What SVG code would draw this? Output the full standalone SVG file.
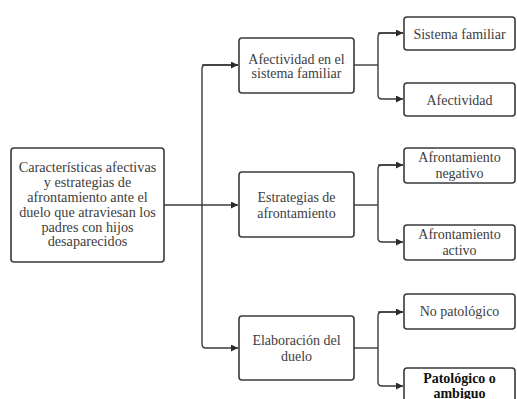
<svg xmlns="http://www.w3.org/2000/svg" width="517" height="399" viewBox="0 0 517 399">
<defs>
<marker id="arr" viewBox="0 0 10 10" refX="10" refY="5" markerWidth="8" markerHeight="7" markerUnits="userSpaceOnUse" orient="auto">
<path d="M0,0 L10,5 L0,10 z" fill="#2b2b2b"/>
</marker>
<style>
.box{fill:#ffffff;stroke:#3a3a3a;stroke-width:1.6}
.t{font-size:14px;fill:#3d3d3d;text-anchor:middle}
.m{font-size:14.2px}
.b{font-weight:bold;fill:#111111}
.c{fill:none;stroke:#3a3a3a;stroke-width:1.4}
</style>
</defs>
<rect width="517" height="399" fill="#ffffff"/>
<g id="connectors">
<path class="c" d="M164,205 H202"/>
<path class="c" d="M238,65 H206 Q202,65 202,69 V344 Q202,348 206,348 H238" marker-end="url(#arr)"/>
<path class="c" d="M202,65 H238" marker-end="url(#arr)"/>
<path class="c" d="M202,205 H238" marker-end="url(#arr)"/>
<path class="c" d="M354,65 H378"/>
<path class="c" d="M403,33 H382 Q378,33 378,37 V95 Q378,99 382,99 H403" marker-end="url(#arr)"/>
<path class="c" d="M378,33 H403" marker-end="url(#arr)"/>
<path class="c" d="M354,205 H378"/>
<path class="c" d="M403,165 H382 Q378,165 378,169 V238 Q378,242 382,242 H403" marker-end="url(#arr)"/>
<path class="c" d="M378,165 H403" marker-end="url(#arr)"/>
<path class="c" d="M354,348 H378"/>
<path class="c" d="M403,312 H382 Q378,312 378,316 V382 Q378,386 382,386 H403" marker-end="url(#arr)"/>
<path class="c" d="M378,312 H403" marker-end="url(#arr)"/>
</g>
<g font-family="'Liberation Serif', 'DejaVu Serif', serif">
<g id="main">
<rect class="box" x="11" y="148" width="153" height="114" rx="3"/>
<text class="t m" x="87.5" y="171.5">Características afectivas</text>
<text class="t m" x="87.5" y="186.5">y estrategias de</text>
<text class="t m" x="87.5" y="201.5">afrontamiento ante el</text>
<text class="t m" x="87.5" y="216.5">duelo que atraviesan los</text>
<text class="t m" x="87.5" y="231.5">padres con hijos</text>
<text class="t m" x="87.5" y="246">desaparecidos</text>
</g>
<g id="afectividad-sistema">
<rect class="box" x="239" y="38" width="115" height="55" rx="3"/>
<text class="t" x="296.5" y="63.5">Afectividad en el</text>
<text class="t" x="296.5" y="78">sistema familiar</text>
</g>
<g id="estrategias">
<rect class="box" x="239" y="172" width="115" height="65" rx="3"/>
<text class="t" x="296.5" y="202">Estrategias de</text>
<text class="t" x="296.5" y="217.5">afrontamiento</text>
</g>
<g id="elaboracion">
<rect class="box" x="239" y="316" width="115" height="64" rx="3"/>
<text class="t" x="296.5" y="345">Elaboración del</text>
<text class="t" x="296.5" y="361">duelo</text>
</g>
<g id="sistema-familiar">
<rect class="box" x="404" y="17" width="111" height="33" rx="3"/>
<text class="t" x="459.5" y="38.5">Sistema familiar</text>
</g>
<g id="afectividad">
<rect class="box" x="404" y="83" width="111" height="33" rx="3"/>
<text class="t" x="459.5" y="104.5">Afectividad</text>
</g>
<g id="afrontamiento-negativo">
<rect class="box" x="404" y="148" width="111" height="35" rx="3"/>
<text class="t" x="459.5" y="162">Afrontamiento</text>
<text class="t" x="459.5" y="177.5">negativo</text>
</g>
<g id="afrontamiento-activo">
<rect class="box" x="404" y="225" width="111" height="35" rx="3"/>
<text class="t" x="459.5" y="239">Afrontamiento</text>
<text class="t" x="459.5" y="254.5">activo</text>
</g>
<g id="no-patologico">
<rect class="box" x="404" y="294" width="111" height="35" rx="3"/>
<text class="t" x="459.5" y="316">No patológico</text>
</g>
<g id="patologico">
<rect class="box" x="404" y="368" width="111" height="38" rx="3"/>
<text class="t b" x="459.5" y="382.5">Patológico o</text>
<text class="t b" x="459.5" y="397.5">ambiguo</text>
</g>
</g>
</svg>
